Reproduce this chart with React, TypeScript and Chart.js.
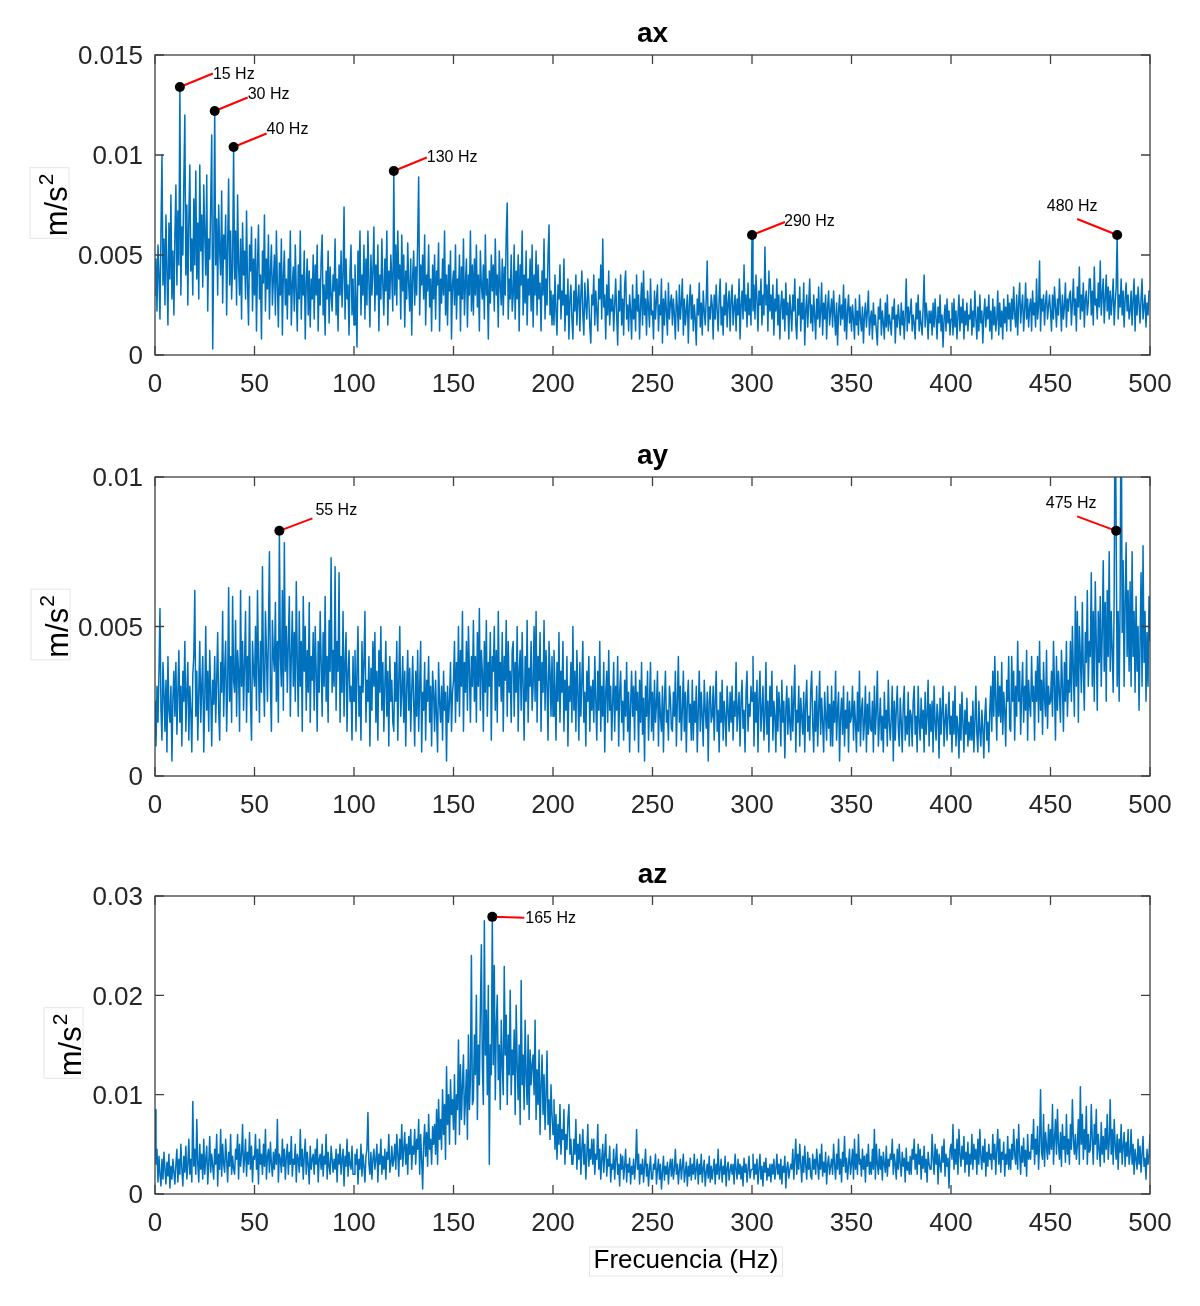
import React, { useEffect, useRef } from 'react';
import { Chart, registerables } from 'chart.js';

Chart.register(...registerables);

// ---------------- DATA ----------------
// Spectra sampled every 0.5 Hz. Each inner row covers 10 Hz (20 bins).
// Amplitudes are in units of 1e-4 m/s^2.
const BIN_HZ = 0.5;
const ROW_HZ = 10;
const UNIT = 1e-4;

// ---- ax ----
const AX_000_100 = [
  [30, 48, 22, 55, 40, 18, 62, 100, 35, 58, 25, 70, 42, 15, 66, 38, 80, 28, 52, 20],
  [60, 85, 35, 72, 45, 134, 30, 64, 50, 88, 120, 40, 75, 25, 68, 95, 42, 58, 30, 78],
  [45, 92, 38, 66, 28, 95, 52, 70, 34, 85, 60, 40, 90, 22, 58, 48, 76, 110, 3, 50],
  [122, 45, 68, 30, 75, 52, 40, 82, 26, 60, 48, 70, 20, 55, 88, 35, 62, 28, 45, 104],
  [38, 62, 25, 80, 44, 30, 58, 18, 66, 40, 52, 28, 72, 35, 15, 55, 42, 64, 22, 48],
  [30, 58, 12, 45, 65, 28, 40, 8, 52, 36, 70, 22, 48, 33, 60, 18, 42, 55, 25, 38],
  [50, 20, 62, 35, 14, 46, 30, 58, 10, 40, 52, 25, 38, 18, 48, 30, 62, 15, 35, 44],
  [22, 55, 32, 12, 45, 28, 62, 18, 40, 30, 52, 8, 36, 48, 20, 42, 14, 38, 28, 50],
  [18, 45, 30, 55, 12, 38, 25, 48, 60, 20, 35, 10, 42, 28, 52, 16, 44, 30, 22, 40],
  [32, 58, 20, 38, 12, 45, 30, 52, 24, 40, 74, 18, 48, 28, 35, 10, 42, 55, 20, 38],
];
const AX_100_200 = [
  [15, 45, 28, 4, 52, 35, 62, 20, 40, 30, 55, 18, 48, 25, 62, 36, 14, 50, 30, 42],
  [64, 22, 45, 30, 55, 12, 40, 28, 58, 35, 20, 48, 32, 62, 15, 42, 28, 50, 38, 22],
  [92, 30, 55, 25, 62, 38, 45, 18, 60, 32, 50, 14, 42, 28, 56, 35, 22, 48, 10, 40],
  [52, 25, 44, 30, 58, 89, 20, 45, 35, 50, 28, 60, 15, 40, 32, 55, 24, 38, 12, 45],
  [28, 50, 18, 42, 35, 56, 12, 38, 26, 48, 30, 62, 20, 40, 15, 45, 32, 52, 8, 36],
  [42, 25, 55, 18, 38, 30, 50, 12, 44, 28, 58, 20, 36, 48, 14, 40, 30, 62, 22, 45],
  [20, 48, 30, 55, 24, 40, 12, 52, 35, 28, 45, 18, 60, 30, 38, 8, 42, 26, 50, 32],
  [45, 22, 58, 30, 40, 14, 52, 35, 25, 48, 20, 44, 30, 60, 76, 18, 38, 28, 50, 22],
  [30, 55, 18, 42, 28, 50, 12, 45, 35, 62, 20, 40, 26, 52, 15, 38, 30, 48, 22, 55],
  [14, 40, 30, 52, 20, 45, 28, 36, 12, 42, 30, 58, 18, 38, 25, 50, 65, 20, 32, 15],
];
const AX_200_300 = [
  [30, 15, 40, 22, 10, 35, 28, 45, 18, 32, 25, 48, 12, 30, 20, 38, 8, 28, 35, 18],
  [8, 32, 22, 40, 15, 28, 35, 12, 30, 42, 20, 10, 36, 25, 18, 38, 28, 14, 6, 30],
  [25, 40, 15, 32, 22, 12, 38, 28, 45, 18, 58, 24, 30, 8, 35, 20, 42, 15, 28, 22],
  [30, 12, 25, 38, 20, 5, 32, 22, 40, 15, 28, 10, 35, 42, 18, 25, 12, 30, 22, 8],
  [35, 18, 28, 12, 40, 22, 30, 8, 25, 36, 15, 42, 20, 28, 10, 32, 24, 14, 38, 20],
  [22, 8, 32, 18, 28, 35, 12, 25, 20, 38, 6, 28, 15, 32, 22, 10, 36, 18, 26, 30],
  [15, 28, 20, 8, 32, 24, 12, 35, 18, 26, 38, 10, 28, 15, 22, 30, 6, 25, 35, 18],
  [30, 12, 25, 18, 5, 28, 20, 36, 14, 26, 10, 32, 22, 15, 28, 47, 12, 24, 18, 30],
  [25, 8, 30, 18, 35, 22, 12, 28, 38, 15, 24, 10, 30, 20, 36, 14, 26, 32, 12, 28],
  [35, 15, 24, 30, 12, 28, 20, 38, 8, 25, 32, 18, 45, 22, 30, 14, 36, 20, 28, 15],
];
const AX_300_400 = [
  [60, 22, 35, 18, 40, 28, 12, 32, 25, 38, 15, 30, 20, 54, 25, 35, 12, 42, 22, 30],
  [18, 35, 10, 28, 22, 38, 15, 30, 8, 25, 32, 18, 28, 12, 36, 20, 26, 8, 30, 22],
  [12, 30, 22, 38, 15, 8, 28, 20, 34, 12, 26, 18, 36, 5, 22, 30, 14, 26, 38, 16],
  [25, 12, 30, 20, 8, 28, 18, 34, 14, 22, 36, 10, 26, 18, 30, 8, 24, 32, 15, 22],
  [28, 14, 32, 20, 10, 26, 5, 22, 30, 15, 25, 18, 35, 12, 28, 8, 22, 30, 16, 24],
  [12, 25, 18, 8, 28, 15, 22, 10, 30, 18, 12, 24, 6, 20, 26, 14, 22, 32, 10, 18],
  [22, 8, 26, 15, 20, 12, 5, 24, 18, 28, 10, 22, 16, 8, 26, 14, 30, 12, 20, 16],
  [10, 24, 18, 28, 6, 20, 14, 25, 18, 10, 26, 15, 22, 8, 20, 38, 12, 24, 16, 22],
  [28, 12, 20, 16, 8, 26, 18, 30, 12, 22, 15, 10, 24, 40, 14, 26, 20, 8, 22, 16],
  [22, 10, 26, 14, 28, 18, 8, 24, 16, 30, 12, 20, 4, 18, 25, 12, 28, 16, 22, 10],
];
const AX_400_500 = [
  [18, 26, 10, 28, 14, 22, 8, 20, 30, 12, 24, 16, 28, 8, 22, 15, 26, 12, 20, 18],
  [28, 10, 22, 14, 32, 18, 8, 24, 12, 30, 16, 22, 6, 20, 28, 14, 24, 18, 30, 12],
  [22, 8, 28, 15, 24, 12, 18, 32, 10, 26, 14, 22, 8, 28, 16, 24, 12, 30, 18, 26],
  [12, 28, 18, 34, 20, 14, 30, 10, 26, 36, 16, 24, 30, 12, 22, 36, 18, 28, 14, 24],
  [28, 12, 32, 20, 26, 14, 38, 18, 24, 47, 12, 28, 22, 30, 15, 26, 32, 18, 24, 30],
  [22, 12, 30, 18, 34, 24, 14, 28, 20, 38, 26, 12, 30, 18, 24, 36, 14, 28, 22, 30],
  [32, 15, 26, 38, 20, 28, 12, 34, 24, 44, 18, 30, 22, 36, 14, 28, 32, 20, 26, 38],
  [38, 20, 32, 15, 44, 25, 28, 18, 36, 24, 47, 20, 30, 38, 16, 28, 40, 22, 34, 18],
  [32, 20, 28, 38, 15, 26, 34, 60, 18, 30, 24, 38, 20, 32, 14, 28, 36, 22, 30, 18],
  [22, 32, 15, 28, 38, 12, 30, 20, 34, 26, 16, 28, 38, 18, 24, 30, 14, 26, 20, 32],
];
const AX_END = 32;

// ---- ay ----
const AY_000_100 = [
  [25, 10, 30, 18, 35, 56, 22, 12, 38, 28, 15, 32, 8, 40, 22, 18, 30, 5, 26, 35],
  [20, 38, 14, 28, 42, 18, 30, 10, 35, 25, 45, 15, 28, 38, 12, 30, 22, 8, 34, 40],
  [62, 20, 35, 12, 28, 45, 18, 30, 40, 8, 25, 50, 22, 35, 15, 42, 28, 10, 32, 24],
  [40, 18, 32, 48, 22, 12, 38, 28, 55, 20, 35, 45, 15, 30, 63, 25, 40, 18, 60, 32],
  [28, 52, 20, 42, 35, 15, 62, 30, 45, 22, 38, 55, 18, 40, 28, 60, 25, 12, 45, 35],
  [30, 50, 22, 62, 38, 18, 45, 28, 70, 35, 20, 55, 42, 25, 48, 75, 30, 15, 52, 40],
  [35, 58, 25, 45, 18, 82, 40, 30, 62, 22, 78, 35, 50, 28, 45, 60, 20, 40, 55, 30],
  [48, 25, 65, 38, 20, 55, 30, 45, 15, 60, 35, 50, 22, 42, 28, 58, 18, 40, 32, 48],
  [22, 50, 35, 15, 45, 28, 55, 38, 20, 48, 30, 60, 25, 40, 18, 52, 35, 73, 28, 42],
  [30, 70, 22, 45, 35, 68, 18, 40, 28, 55, 20, 38, 48, 15, 35, 42, 25, 30, 12, 40],
];
const AY_100_200 = [
  [25, 42, 15, 35, 50, 20, 30, 12, 45, 28, 38, 55, 18, 32, 25, 40, 10, 36, 22, 45],
  [30, 48, 18, 35, 12, 42, 28, 50, 22, 38, 15, 30, 45, 20, 35, 10, 40, 25, 32, 18],
  [15, 38, 25, 45, 12, 32, 50, 20, 28, 40, 18, 35, 10, 30, 42, 22, 36, 15, 28, 40],
  [25, 10, 35, 20, 42, 15, 30, 45, 8, 28, 22, 38, 12, 32, 25, 40, 18, 30, 10, 35],
  [28, 15, 32, 20, 8, 38, 25, 18, 30, 12, 35, 22, 28, 5, 30, 18, 25, 38, 15, 28],
  [32, 45, 18, 38, 25, 50, 20, 42, 30, 55, 15, 38, 28, 45, 22, 50, 35, 18, 40, 30],
  [52, 25, 40, 18, 48, 30, 56, 22, 42, 35, 15, 45, 28, 52, 20, 38, 30, 48, 12, 40],
  [35, 50, 22, 42, 18, 55, 30, 38, 25, 48, 15, 40, 32, 52, 20, 45, 28, 35, 18, 42],
  [45, 20, 38, 28, 50, 15, 35, 42, 22, 48, 30, 12, 40, 25, 52, 18, 36, 30, 45, 22],
  [30, 50, 25, 55, 18, 40, 32, 48, 15, 38, 28, 52, 22, 42, 30, 12, 45, 35, 20, 40],
];
const AY_200_300 = [
  [20, 42, 30, 12, 38, 25, 48, 18, 35, 28, 45, 15, 32, 22, 40, 10, 30, 25, 38, 18],
  [50, 22, 35, 15, 42, 28, 12, 38, 20, 32, 45, 18, 28, 10, 35, 25, 40, 15, 30, 22],
  [32, 18, 40, 25, 12, 35, 22, 45, 15, 30, 20, 38, 8, 28, 35, 18, 42, 22, 30, 12],
  [25, 38, 15, 30, 22, 40, 10, 28, 35, 18, 25, 12, 32, 20, 38, 15, 28, 8, 24, 35],
  [20, 30, 12, 35, 22, 28, 8, 32, 18, 38, 14, 26, 5, 30, 20, 35, 12, 25, 38, 15],
  [28, 12, 32, 18, 24, 35, 10, 28, 20, 15, 30, 8, 25, 35, 18, 22, 12, 30, 26, 16],
  [15, 28, 20, 35, 10, 25, 40, 18, 30, 12, 22, 35, 15, 28, 8, 25, 32, 18, 24, 12],
  [32, 12, 25, 18, 30, 8, 22, 35, 15, 28, 20, 10, 32, 22, 16, 28, 5, 25, 30, 18],
  [20, 30, 12, 25, 35, 15, 22, 8, 28, 18, 32, 12, 25, 20, 10, 30, 22, 15, 28, 18],
  [30, 12, 25, 20, 38, 15, 22, 28, 10, 25, 32, 16, 22, 8, 28, 35, 15, 24, 20, 30],
];
const AY_300_400 = [
  [25, 40, 10, 28, 18, 32, 8, 25, 35, 15, 22, 30, 12, 20, 38, 14, 25, 8, 30, 20],
  [35, 12, 25, 20, 8, 30, 15, 28, 22, 10, 32, 18, 25, 6, 22, 30, 14, 26, 18, 12],
  [30, 15, 25, 37, 8, 22, 18, 30, 10, 26, 20, 14, 28, 8, 24, 32, 15, 20, 12, 28],
  [35, 18, 8, 25, 15, 30, 10, 22, 35, 14, 26, 18, 8, 28, 20, 12, 30, 16, 24, 10],
  [30, 10, 25, 18, 35, 12, 22, 28, 5, 20, 26, 14, 30, 10, 22, 16, 28, 8, 25, 18],
  [20, 30, 12, 25, 18, 8, 28, 15, 35, 10, 22, 26, 12, 18, 30, 8, 24, 14, 28, 16],
  [15, 25, 8, 30, 14, 22, 35, 10, 18, 26, 12, 20, 8, 28, 16, 22, 10, 32, 18, 12],
  [20, 30, 5, 25, 12, 22, 30, 16, 10, 26, 18, 8, 24, 30, 12, 20, 14, 28, 10, 22],
  [20, 10, 25, 30, 14, 20, 8, 30, 18, 12, 26, 16, 22, 8, 28, 14, 20, 32, 10, 24],
  [15, 25, 8, 30, 18, 12, 24, 20, 6, 26, 14, 22, 30, 10, 18, 24, 12, 20, 28, 14],
];
const AY_400_500 = [
  [20, 8, 25, 14, 30, 10, 20, 16, 6, 24, 12, 28, 18, 8, 22, 14, 26, 10, 18, 12],
  [20, 12, 25, 8, 18, 30, 14, 8, 25, 15, 10, 22, 16, 6, 20, 26, 12, 18, 8, 22],
  [30, 15, 35, 20, 40, 25, 12, 35, 20, 30, 18, 38, 14, 28, 22, 10, 32, 25, 40, 16],
  [15, 40, 25, 35, 12, 30, 20, 45, 25, 35, 14, 28, 38, 18, 30, 22, 42, 12, 32, 24],
  [20, 40, 25, 30, 12, 35, 25, 40, 18, 45, 22, 32, 14, 38, 26, 20, 42, 16, 30, 24],
  [25, 35, 20, 45, 30, 12, 40, 22, 35, 28, 18, 42, 30, 15, 38, 25, 45, 20, 32, 28],
  [45, 25, 50, 35, 20, 60, 30, 55, 18, 50, 40, 28, 58, 35, 22, 48, 38, 62, 30, 45],
  [40, 68, 30, 55, 25, 65, 45, 22, 55, 38, 60, 30, 48, 72, 35, 58, 25, 62, 40, 75],
  [35, 55, 42, 28, 60, 135, 82, 30, 55, 25, 60, 140, 48, 72, 30, 58, 78, 40, 62, 35],
  [65, 30, 75, 40, 55, 28, 60, 35, 50, 22, 45, 68, 30, 77, 38, 55, 25, 48, 30, 60],
];
const AY_END = 45;

// ---- az ----
const AZ_000_100 = [
  [85, 30, 45, 12, 38, 20, 8, 35, 15, 42, 25, 10, 32, 18, 40, 6, 28, 15, 35, 22],
  [10, 30, 45, 12, 35, 20, 50, 25, 8, 38, 22, 48, 15, 30, 55, 20, 35, 12, 93, 28],
  [45, 20, 75, 30, 12, 50, 25, 40, 15, 55, 20, 35, 48, 10, 30, 58, 22, 40, 28, 15],
  [45, 30, 60, 8, 40, 25, 65, 18, 50, 30, 22, 55, 35, 12, 42, 28, 60, 20, 38, 25],
  [20, 45, 35, 60, 15, 50, 28, 40, 70, 22, 35, 55, 18, 42, 30, 62, 25, 48, 12, 38],
  [35, 60, 25, 45, 10, 55, 30, 40, 20, 50, 28, 65, 15, 38, 45, 22, 52, 30, 18, 42],
  [25, 45, 30, 75, 12, 40, 35, 22, 55, 28, 45, 15, 38, 50, 20, 42, 30, 58, 18, 35],
  [30, 50, 12, 40, 35, 22, 65, 28, 45, 15, 38, 55, 20, 42, 30, 10, 48, 25, 35, 40],
  [20, 45, 30, 55, 12, 35, 40, 25, 50, 18, 38, 30, 60, 15, 42, 28, 20, 48, 35, 22],
  [35, 25, 45, 12, 40, 30, 50, 20, 35, 45, 8, 38, 28, 55, 18, 42, 30, 25, 48, 20],
];
const AZ_100_200 = [
  [20, 40, 30, 45, 10, 35, 25, 50, 18, 40, 28, 12, 38, 45, 82, 30, 20, 42, 15, 35],
  [45, 25, 35, 50, 12, 40, 30, 55, 20, 38, 25, 45, 15, 42, 35, 60, 22, 30, 48, 28],
  [35, 50, 25, 60, 40, 18, 55, 35, 70, 28, 45, 62, 30, 50, 20, 58, 40, 65, 25, 48],
  [40, 65, 30, 55, 45, 75, 20, 60, 35, 5, 50, 70, 38, 62, 28, 80, 45, 55, 30, 68],
  [50, 70, 40, 85, 30, 95, 55, 75, 45, 105, 60, 90, 35, 128, 70, 100, 50, 115, 80, 95],
  [65, 120, 50, 100, 85, 155, 60, 130, 75, 110, 140, 70, 95, 125, 55, 160, 85, 115, 240, 90],
  [95, 160, 120, 200, 75, 150, 110, 185, 251, 130, 90, 275, 140, 185, 100, 210, 30, 150, 120, 279],
  [130, 230, 95, 170, 200, 115, 150, 85, 175, 130, 100, 229, 140, 180, 90, 160, 120, 205, 100, 145],
  [120, 165, 80, 190, 130, 95, 150, 70, 215, 110, 140, 85, 175, 120, 90, 160, 75, 145, 110, 130],
  [140, 100, 175, 75, 125, 90, 145, 60, 110, 140, 80, 120, 65, 100, 144, 70, 95, 55, 110, 80],
];
const AZ_200_300 = [
  [60, 95, 45, 80, 35, 70, 50, 90, 40, 65, 55, 85, 30, 60, 45, 75, 90, 40, 55, 30],
  [30, 55, 40, 75, 25, 50, 35, 60, 20, 45, 65, 30, 50, 15, 40, 70, 28, 45, 35, 55],
  [30, 55, 20, 40, 35, 70, 25, 45, 15, 35, 50, 22, 40, 60, 18, 35, 28, 48, 12, 30],
  [25, 45, 15, 35, 50, 20, 30, 8, 40, 25, 38, 15, 28, 45, 12, 30, 22, 36, 10, 28],
  [20, 35, 15, 30, 65, 25, 40, 10, 30, 20, 35, 12, 28, 45, 18, 30, 8, 25, 38, 15],
  [15, 30, 25, 40, 10, 25, 35, 15, 30, 5, 22, 38, 14, 28, 20, 32, 10, 26, 35, 18],
  [35, 15, 25, 45, 20, 30, 10, 25, 35, 15, 28, 40, 12, 22, 32, 8, 28, 18, 36, 14],
  [30, 20, 40, 15, 25, 35, 10, 30, 20, 40, 12, 26, 34, 8, 22, 30, 16, 38, 12, 28],
  [15, 25, 35, 10, 30, 20, 45, 15, 25, 35, 12, 28, 20, 38, 8, 26, 32, 14, 24, 30],
  [20, 30, 10, 40, 25, 15, 35, 20, 30, 15, 28, 8, 36, 22, 30, 12, 25, 38, 16, 24],
];
const AZ_300_400 = [
  [25, 40, 15, 30, 20, 35, 10, 25, 40, 15, 28, 8, 32, 22, 36, 14, 26, 18, 30, 12],
  [30, 20, 35, 15, 25, 40, 20, 30, 15, 35, 10, 28, 22, 38, 6, 26, 32, 16, 24, 30],
  [25, 45, 15, 35, 55, 20, 40, 25, 50, 30, 12, 38, 22, 48, 28, 15, 42, 25, 36, 18],
  [15, 40, 25, 35, 20, 45, 30, 15, 40, 25, 50, 18, 32, 22, 42, 10, 30, 38, 20, 28],
  [35, 20, 50, 30, 15, 40, 25, 55, 20, 35, 12, 42, 28, 58, 22, 36, 15, 30, 45, 20],
  [30, 45, 15, 55, 25, 40, 20, 60, 30, 35, 18, 45, 25, 38, 12, 40, 28, 50, 20, 32],
  [20, 45, 25, 65, 15, 50, 30, 20, 45, 25, 38, 14, 42, 30, 22, 48, 18, 35, 28, 40],
  [35, 55, 20, 40, 30, 15, 45, 25, 50, 30, 18, 42, 28, 36, 12, 46, 24, 32, 20, 38],
  [20, 45, 35, 55, 25, 40, 20, 50, 30, 45, 15, 38, 26, 48, 22, 35, 12, 42, 30, 25],
  [25, 60, 35, 20, 50, 30, 45, 10, 40, 30, 22, 48, 32, 55, 18, 40, 28, 36, 6, 44],
];
const AZ_400_500 = [
  [50, 35, 70, 25, 45, 30, 55, 20, 65, 40, 28, 48, 35, 58, 22, 42, 30, 52, 18, 40],
  [30, 60, 25, 50, 35, 45, 20, 55, 30, 65, 38, 25, 48, 32, 55, 18, 42, 28, 50, 35],
  [40, 25, 60, 35, 50, 20, 45, 65, 30, 55, 22, 42, 35, 52, 18, 40, 30, 58, 25, 45],
  [25, 50, 35, 65, 40, 30, 55, 25, 70, 40, 20, 48, 32, 56, 28, 44, 18, 60, 35, 42],
  [35, 60, 45, 75, 30, 55, 40, 68, 25, 50, 105, 42, 35, 80, 28, 62, 48, 35, 70, 40],
  [65, 45, 90, 30, 55, 75, 40, 85, 50, 35, 62, 28, 70, 45, 58, 32, 80, 40, 55, 30],
  [70, 45, 95, 55, 40, 60, 35, 50, 75, 30, 108, 50, 80, 35, 65, 45, 88, 30, 60, 42],
  [45, 90, 55, 30, 70, 50, 85, 35, 60, 45, 28, 72, 40, 58, 32, 66, 45, 80, 35, 52],
  [95, 40, 65, 30, 75, 50, 35, 60, 25, 55, 42, 70, 30, 48, 62, 28, 52, 38, 65, 30],
  [40, 65, 30, 50, 20, 45, 35, 25, 55, 30, 48, 22, 40, 58, 28, 36, 15, 45, 30, 38],
];
const AZ_END = 60;

// Axis ticks
const X_TICKS = [0, 50, 100, 150, 200, 250, 300, 350, 400, 450, 500];
const AX_Y_TICKS = [0, 0.005, 0.01, 0.015];
const AY_Y_TICKS = [0, 0.005, 0.01];
const AZ_Y_TICKS = [0, 0.01, 0.02, 0.03];

// Peak data tips (bin frequency in Hz and label text)
const AX_PEAK_HZ = [12.5, 30, 39.5, 120, 300, 483.5];
const AX_PEAK_LABELS = ['15 Hz', '30 Hz', '40 Hz', '130 Hz', '290 Hz', '480 Hz'];
const AY_PEAK_HZ = [62.5, 483];
const AY_PEAK_LABELS = ['55 Hz', '475 Hz'];
const AZ_PEAK_HZ = [169.5];
const AZ_PEAK_LABELS = ['165 Hz'];

// ---------------- STYLE ----------------
const FONT = '"Liberation Sans", Arial, Helvetica, sans-serif';
const LINE_COLOR = '#0072BD';
const AXIS_COLOR = '#404040';
const TICK_TEXT = '#262626';
const TICK_LEN = 9;
const X_AXIS_H = 40;
const Y_AXIS_W = 155;

type Callout = { lineDx: number; lineDy: number; textDx: number; textDy: number; align: CanvasTextAlign };

const AX_CALLOUTS: Callout[] = [
  { lineDx: 33, lineDy: -13.5, textDx: 33, textDy: -12.5, align: 'left' },
  { lineDx: 33, lineDy: -13.5, textDx: 33, textDy: -16.5, align: 'left' },
  { lineDx: 33, lineDy: -13.5, textDx: 33, textDy: -17, align: 'left' },
  { lineDx: 33, lineDy: -13.5, textDx: 33, textDy: -13, align: 'left' },
  { lineDx: 33, lineDy: -13, textDx: 32, textDy: -13, align: 'left' },
  { lineDx: -40, lineDy: -16, textDx: -45, textDy: -28, align: 'center' },
];
const AY_CALLOUTS: Callout[] = [
  { lineDx: 33, lineDy: -12.5, textDx: 36, textDy: -20, align: 'left' },
  { lineDx: -39, lineDy: -14.5, textDx: -45, textDy: -27, align: 'center' },
];
const AZ_CALLOUTS: Callout[] = [
  { lineDx: 32, lineDy: 1, textDx: 33, textDy: 1.5, align: 'left' },
];

type Pt = { x: number; y: number };

function buildSeries(blocks: number[][][], endValue: number): Pt[] {
  const pts: Pt[] = [];
  let row = 0;
  for (const block of blocks) {
    for (const r of block) {
      r.forEach((v, j) => pts.push({ x: row * ROW_HZ + j * BIN_HZ, y: v * UNIT }));
      row += 1;
    }
  }
  pts.push({ x: row * ROW_HZ, y: endValue * UNIT });
  return pts;
}

interface Panel {
  key: string;
  title: string;
  points: Pt[];
  yMax: number;
  yTicks: number[];
  peakHz: number[];
  peakLabels: string[];
  callouts: Callout[];
  top: number;
  height: number;
  areaTop: number;
  areaBottom: number;
  yLabelX: number;
  xLabel?: string;
}

const PANELS: Panel[] = [
  {
    key: 'ax', title: 'ax',
    points: buildSeries([AX_000_100, AX_100_200, AX_200_300, AX_300_400, AX_400_500], AX_END),
    yMax: 0.015, yTicks: AX_Y_TICKS,
    peakHz: AX_PEAK_HZ, peakLabels: AX_PEAK_LABELS, callouts: AX_CALLOUTS,
    top: 0, height: 420, areaTop: 55, areaBottom: 355, yLabelX: 67,
  },
  {
    key: 'ay', title: 'ay',
    points: buildSeries([AY_000_100, AY_100_200, AY_200_300, AY_300_400, AY_400_500], AY_END),
    yMax: 0.01, yTicks: AY_Y_TICKS,
    peakHz: AY_PEAK_HZ, peakLabels: AY_PEAK_LABELS, callouts: AY_CALLOUTS,
    top: 420, height: 420, areaTop: 57, areaBottom: 356, yLabelX: 68,
  },
  {
    key: 'az', title: 'az',
    points: buildSeries([AZ_000_100, AZ_100_200, AZ_200_300, AZ_300_400, AZ_400_500], AZ_END),
    yMax: 0.03, yTicks: AZ_Y_TICKS,
    peakHz: AZ_PEAK_HZ, peakLabels: AZ_PEAK_LABELS, callouts: AZ_CALLOUTS,
    top: 840, height: 466, areaTop: 56, areaBottom: 354, yLabelX: 81,
    xLabel: 'Frecuencia (Hz)',
  },
];

function decorPlugin(p: Panel) {
  return {
    id: 'decor_' + p.key,
    afterDatasetsDraw(chart: any) {
      const { ctx, chartArea: a, scales } = chart;
      const xs = scales.x;
      const ys = scales.y;
      ctx.save();

      // axes box + inward ticks
      ctx.strokeStyle = AXIS_COLOR;
      ctx.lineWidth = 1.3;
      ctx.strokeRect(a.left, a.top, a.right - a.left, a.bottom - a.top);
      ctx.beginPath();
      for (const v of X_TICKS) {
        const px = xs.getPixelForValue(v);
        ctx.moveTo(px, a.bottom);
        ctx.lineTo(px, a.bottom - TICK_LEN);
        ctx.moveTo(px, a.top);
        ctx.lineTo(px, a.top + TICK_LEN);
      }
      for (const v of p.yTicks) {
        const py = ys.getPixelForValue(v);
        ctx.moveTo(a.left, py);
        ctx.lineTo(a.left + TICK_LEN, py);
        ctx.moveTo(a.right, py);
        ctx.lineTo(a.right - TICK_LEN, py);
      }
      ctx.stroke();

      // title
      ctx.fillStyle = '#000';
      ctx.font = `bold 28px ${FONT}`;
      ctx.textAlign = 'center';
      ctx.textBaseline = 'alphabetic';
      ctx.fillText(p.title, (a.left + a.right) / 2, a.top - 13);

      // y label m/s^2 (rotated)
      const cy = (a.top + a.bottom) / 2;
      ctx.font = `31px ${FONT}`;
      const w1 = ctx.measureText('m/s').width;
      ctx.font = `21px ${FONT}`;
      const w2 = ctx.measureText('2').width;
      const total = w1 + 1 + w2;
      ctx.save();
      ctx.translate(p.yLabelX, cy + total / 2);
      ctx.rotate(-Math.PI / 2);
      ctx.strokeStyle = '#e6e6e6';
      ctx.lineWidth = 1;
      ctx.strokeRect(-2, -37, total + 8, 39);
      ctx.fillStyle = '#000';
      ctx.textAlign = 'left';
      ctx.textBaseline = 'alphabetic';
      ctx.font = `31px ${FONT}`;
      ctx.fillText('m/s', 0, 0);
      ctx.font = `21px ${FONT}`;
      ctx.fillText('2', w1 + 1, -14);
      ctx.restore();

      // x label
      if (p.xLabel) {
        ctx.font = `26px ${FONT}`;
        ctx.textAlign = 'center';
        ctx.textBaseline = 'alphabetic';
        const w = ctx.measureText(p.xLabel).width;
        const cx = 686;
        const by = 428;
        ctx.strokeStyle = '#e6e6e6';
        ctx.lineWidth = 1;
        ctx.strokeRect(cx - w / 2 - 4, by - 21, w + 8, 29);
        ctx.fillStyle = '#000';
        ctx.fillText(p.xLabel, cx, by);
      }

      // data tips
      p.peakHz.forEach((hz, i) => {
        const c = p.callouts[i];
        const pt = p.points.find((q) => q.x === hz);
        if (!pt) return;
        const px = xs.getPixelForValue(pt.x);
        const py = ys.getPixelForValue(pt.y);
        ctx.strokeStyle = '#ff0000';
        ctx.lineWidth = 2;
        ctx.beginPath();
        ctx.moveTo(px, py);
        ctx.lineTo(px + c.lineDx, py + c.lineDy);
        ctx.stroke();
        ctx.fillStyle = '#000';
        ctx.beginPath();
        ctx.arc(px, py, 5, 0, Math.PI * 2);
        ctx.fill();
        ctx.font = `16px ${FONT}`;
        ctx.textAlign = c.align;
        ctx.textBaseline = 'middle';
        ctx.fillText(p.peakLabels[i], px + c.textDx, py + c.textDy);
      });

      ctx.restore();
    },
  };
}

function PanelChart({ p }: { p: Panel }) {
  const ref = useRef<HTMLCanvasElement>(null);
  useEffect(() => {
    if (!ref.current) return;
    const tickFont = { family: FONT, size: 26 };
    const chart = new Chart(ref.current, {
      type: 'line',
      data: {
        datasets: [
          {
            data: p.points,
            borderColor: LINE_COLOR,
            borderWidth: 1.5,
            borderJoinStyle: 'round',
            pointRadius: 0,
            tension: 0,
            fill: false,
          },
        ],
      },
      options: {
        animation: false,
        responsive: false,
        events: [],
        layout: {
          padding: {
            top: p.areaTop,
            bottom: p.height - p.areaBottom - X_AXIS_H,
            left: 0,
            right: 50,
          },
        },
        plugins: {
          legend: { display: false },
          tooltip: { enabled: false },
          title: { display: false },
        },
        scales: {
          x: {
            type: 'linear',
            min: 0,
            max: 500,
            afterBuildTicks: (s: any) => {
              s.ticks = X_TICKS.map((v) => ({ value: v }));
            },
            afterFit: (s: any) => {
              s.height = X_AXIS_H;
            },
            grid: { display: false, drawTicks: false },
            border: { display: false },
            ticks: {
              font: tickFont,
              color: TICK_TEXT,
              padding: 14,
              maxRotation: 0,
              autoSkip: false,
              callback: (v: any) => String(v),
            },
          },
          y: {
            type: 'linear',
            min: 0,
            max: p.yMax,
            afterBuildTicks: (s: any) => {
              s.ticks = p.yTicks.map((v) => ({ value: v }));
            },
            afterFit: (s: any) => {
              s.width = Y_AXIS_W;
            },
            grid: { display: false, drawTicks: false },
            border: { display: false },
            ticks: {
              font: tickFont,
              color: TICK_TEXT,
              padding: 12,
              labelOffset: 2,
              autoSkip: false,
              callback: (v: any) => String(v),
            },
          },
        },
      } as any,
      plugins: [decorPlugin(p)],
    });
    return () => chart.destroy();
  }, [p]);
  return (
    <canvas
      ref={ref}
      width={1200}
      height={p.height}
      style={{ position: 'absolute', left: 0, top: p.top, width: 1200, height: p.height }}
    />
  );
}

export default function App() {
  return (
    <div
      style={{
        position: 'absolute',
        left: 0,
        top: 0,
        width: 1200,
        height: 1306,
        background: '#ffffff',
        overflow: 'hidden',
      }}
    >
      {PANELS.map((p) => (
        <PanelChart key={p.key} p={p} />
      ))}
    </div>
  );
}
